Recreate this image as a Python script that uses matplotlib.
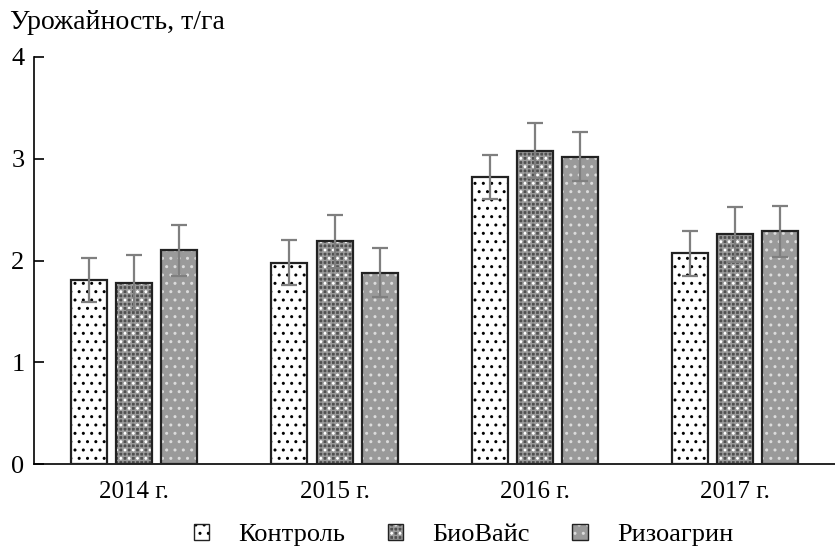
import matplotlib
matplotlib.use("Agg")
import matplotlib.pyplot as plt
import numpy as np
from matplotlib.patches import Patch
from matplotlib.legend_handler import HandlerBase
from matplotlib.patches import Rectangle

plt.rcParams['font.family'] = ['Liberation Serif', 'DejaVu Serif']
plt.rcParams['hatch.linewidth'] = 1.0

years = ["2014 г.", "2015 г.", "2016 г.", "2017 г."]
series = ["Контроль", "БиоВайс", "Ризоагрин"]
kontrol = [1.81, 1.98, 2.82, 2.07]
biovais = [1.78, 2.19, 3.08, 2.26]
rizoagrin = [2.10, 1.88, 3.02, 2.29]
err_kontrol = [0.22, 0.22, 0.22, 0.22]
err_biovais = [0.27, 0.26, 0.27, 0.27]
err_rizoagrin = [0.25, 0.24, 0.24, 0.25]

values = [kontrol, biovais, rizoagrin]
errors = [err_kontrol, err_biovais, err_rizoagrin]

# style layers: (facecolor, hatch, hatchcolor)
styles = [
    [("white", "..", "black")],
    [("#505050", "++++", "#9c9c9c"), ("none", "..", "white")],
    [("#9a9a9a", "..", "#dcdcdc")],
]

fig = plt.figure(figsize=(8.35, 5.48), dpi=100)
ax = fig.add_axes([0.041, 0.153, 0.959, 0.743])

x = np.arange(len(years))
pitch = 0.225
width = 0.18
for i, (vals, errs) in enumerate(zip(values, errors)):
    pos = x + (i - 1) * pitch
    for fc, h, hc in styles[i]:
        ax.bar(pos, vals, width, color=fc, hatch=h, edgecolor=hc, linewidth=0, zorder=2)
    ax.bar(pos, vals, width, color="none", edgecolor="#222222", linewidth=1.6, zorder=3)
    ax.errorbar(pos, vals, yerr=errs, fmt="none", ecolor="#7f7f7f", elinewidth=1.6,
                capsize=6, capthick=1.6, zorder=4)

ax.set_xlim(-0.5, 3.5)
ax.set_ylim(0, 4)
ax.set_xticks(x)
ax.set_xticklabels(years, fontsize=18)
ax.set_yticks([0, 1, 2, 3, 4])
ax.set_yticklabels(["0", "1", "2", "3", "4"], fontsize=19)
ax.tick_params(axis='x', length=0, pad=12)
ax.tick_params(axis='y', direction='in', length=7, width=1.2, pad=7)
for s in ["top", "right"]:
    ax.spines[s].set_visible(False)
ax.spines["left"].set_linewidth(1.2)
ax.spines["bottom"].set_linewidth(1.2)

fig.text(0.012, 0.982, "Урожайность, т/га", fontsize=20, ha="left", va="top")


class LayeredHandler(HandlerBase):
    def __init__(self, layers):
        super().__init__()
        self.layers = layers

    def create_artists(self, legend, orig_handle, xdescent, ydescent, width, height, fontsize, trans):
        arts = []
        s = min(width, height)
        x0 = -xdescent + (width - s) / 2
        y0 = -ydescent + (height - s) / 2
        for fc, h, hc in self.layers:
            r = Rectangle((x0, y0), s, s, facecolor=fc, hatch=h, edgecolor=hc, linewidth=0, transform=trans)
            arts.append(r)
        r = Rectangle((x0, y0), s, s, facecolor="none", edgecolor="#222222", linewidth=1.0, transform=trans)
        arts.append(r)
        return arts

handles = [Patch(label=s) for s in series]
hmap = {handles[i]: LayeredHandler(styles[i]) for i in range(3)}
fig.legend(handles=handles, labels=series, handler_map=hmap, loc="lower center",
           bbox_to_anchor=(0.555, -0.04), ncol=3, frameon=False, fontsize=19,
           handlelength=0.6, handleheight=0.6, columnspacing=1.6, handletextpad=1.1)

fig.savefig("out.png", dpi=100)
